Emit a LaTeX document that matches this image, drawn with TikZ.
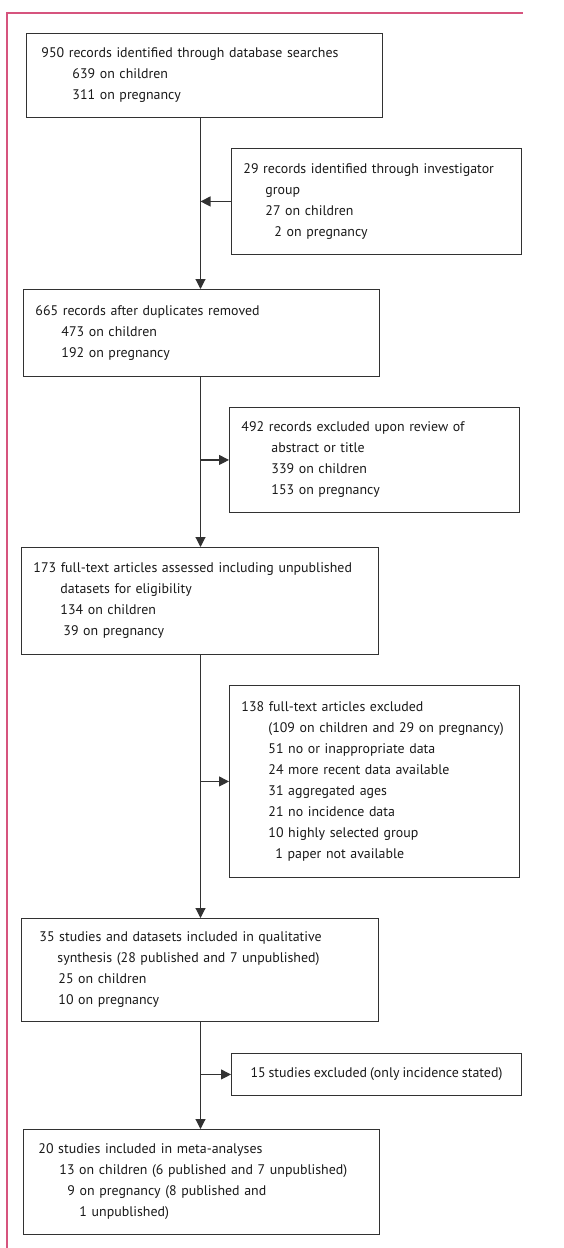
\documentclass[tikz,border=0pt]{standalone}
\usepackage{fontspec}
\setmainfont{PT Sans}[WordSpace=0.8]
\usetikzlibrary{arrows.meta,positioning}
\definecolor{framepink}{RGB}{214,84,126}
\definecolor{boxline}{RGB}{50,50,50}
\tikzset{
    box/.style={draw=boxline, line width=0.9pt, anchor=north west, align=left,
        inner xsep=12pt, inner ysep=0pt, text=black!90, font=\fontsize{13.9}{21}\selectfont},
    flow/.style={draw=boxline, line width=1.1pt, -{Triangle[length=10pt,width=10pt]}}
}

\begin{document}
\begin{tikzpicture}[x=1pt,y=-1pt]
    \useasboundingbox (0,0) rectangle (563,1248);
    % frame
    \draw[framepink, line width=1.2pt] (7,1248) -- (7,13) -- (523,13);

    \node[box, inner xsep=15pt, text width=326pt, minimum height=84pt] (search) at (26,33)
        {950 records identified through database searches\\
         \hspace*{31pt}639 on children\\
         \hspace*{31pt}311 on pregnancy};
    \node[box, text width=266pt, minimum height=106pt] (investig) at (231,148)
        {29 records identified through investigator\\
         \hspace*{22pt}group\\
         \hspace*{22pt}27 on children\\
         \hspace*{31pt}2 on pregnancy};
    \node[box, text width=332pt, minimum height=87pt] (dedup) at (23,289)
        {665 records after duplicates removed\\
         \hspace*{26pt}473 on children\\
         \hspace*{26pt}192 on pregnancy};
    \node[box, text width=266pt, minimum height=105pt] (screenexcl) at (229,407)
        {492 records excluded upon review of\\
         \hspace*{30pt}abstract or title\\
         \hspace*{30pt}339 on children\\
         \hspace*{30pt}153 on pregnancy};
    \node[box, text width=333pt, minimum height=107pt] (fulltext) at (21,547)
        {173 full-text articles assessed including unpublished\\
         \hspace*{27pt}datasets for eligibility\\
         \hspace*{27pt}134 on children\\
         \hspace*{30pt}39 on pregnancy};
    \node[box, text width=266pt, minimum height=192pt] (ftexcl) at (229,685)
        {138 full-text articles excluded\\
         \hspace*{27pt}\mbox{(109 on children and 29 on pregnancy)}\\
         \hspace*{27pt}51 no or inappropriate data\\
         \hspace*{27pt}24 more recent data available\\
         \hspace*{27pt}31 aggregated ages\\
         \hspace*{27pt}21 no incidence data\\
         \hspace*{27pt}10 highly selected group\\
         \hspace*{34pt}1 paper not available};
    \node[box, inner xsep=18pt, text width=321pt, minimum height=103pt] (qual) at (21,918)
        {35 studies and datasets included in qualitative\\
         \hspace*{18pt}synthesis (28 published and 7 unpublished)\\
         \hspace*{19pt}25 on children\\
         \hspace*{19pt}10 on pregnancy};
    \node[box, align=center, minimum width=290pt, minimum height=42pt] (quantexcl) at (231,1053)
        {15 studies excluded (only incidence stated)};
    \node[box, inner xsep=15pt, text width=326pt, minimum height=105pt] (meta) at (23,1129)
        {20 studies included in meta-analyses\\
         \hspace*{21pt}13 on children (6 published and 7 unpublished)\\
         \hspace*{29pt}9 on pregnancy (8 published and\\
         \hspace*{41pt}1 unpublished)};

    % connectors
    \coordinate (trunk) at (200.5,0);
    \draw[flow] (search.south -| trunk) -- (dedup.north -| trunk);
    \draw[flow] (investig.west) -- (investig.west -| trunk);
    \draw[flow] (dedup.south -| trunk) -- (fulltext.north -| trunk);
    \draw[flow] (screenexcl.west -| trunk) -- (screenexcl.west);
    \draw[flow] (fulltext.south -| trunk) -- (qual.north -| trunk);
    \draw[flow] (ftexcl.west -| trunk) -- (ftexcl.west);
    \draw[flow] (qual.south -| trunk) -- (meta.north -| trunk);
    \draw[flow] (quantexcl.west -| trunk) -- (quantexcl.west);
\end{tikzpicture}
\end{document}
